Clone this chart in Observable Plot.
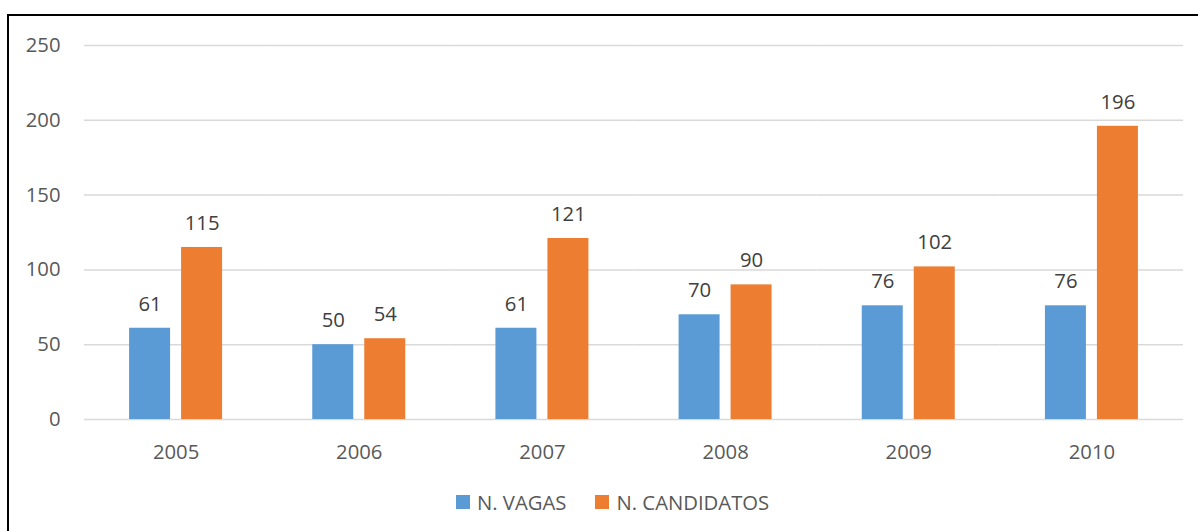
<!DOCTYPE html>
<html>
<head>
<meta charset="utf-8">
<script src="https://cdn.jsdelivr.net/npm/d3@7"></script>
<script src="https://cdn.jsdelivr.net/npm/@observablehq/plot@0.6"></script>
<style>
  html, body { margin: 0; padding: 0; background: #fff; overflow: hidden; }
  #wrap { position: relative; width: 1198px; height: 531px; overflow: hidden; font-family: "Open Sans", sans-serif; }
  #frame { position: absolute; left: 7px; top: 14px; width: 1200px; height: 600px; border: 2px solid #000; box-sizing: border-box; }
  #chart { position: absolute; left: 0; top: 0; }
  #legend { position: absolute; left: 456px; top: 488px; display: flex; align-items: center; font-size: 20.3px; color: #595959; white-space: nowrap; }
  #legend .item { display: flex; align-items: center; }
  #legend .sw { width: 14px; height: 14px; margin-right: 7px; }
</style>
</head>
<body>
<div id="wrap">
  <div id="frame"></div>
  <div id="chart"></div>
  <div id="legend"></div>
</div>
<script>
const years = ["2005", "2006", "2007", "2008", "2009", "2010"];
const seriesNames = ["N. VAGAS", "N. CANDIDATOS"];
const vagas = [61, 50, 61, 70, 76, 76];
const candidatos = [115, 54, 121, 90, 102, 196];
const yTicks = [0, 50, 100, 150, 200, 250];
const colors = ["#5b9bd5", "#ed7d31"];

const data = [];
years.forEach((yr, i) => {
  data.push({year: yr, series: seriesNames[0], value: vagas[i]});
  data.push({year: yr, series: seriesNames[1], value: candidatos[i]});
});

const fs = 20.3;
const chart = Plot.plot({
  width: 1198,
  height: 470,
  marginLeft: 84,
  marginRight: 15,
  marginTop: 45,
  marginBottom: 51,
  style: {fontFamily: "Open Sans", fontSize: fs + "px", background: "transparent", overflow: "visible"},
  fx: {domain: years, padding: 0, label: null, round: false},
  x: {domain: seriesNames, paddingInner: 0.2115, paddingOuter: 0.867, axis: null, round: false},
  y: {domain: [0, 250], label: null},
  color: {domain: seriesNames, range: colors},
  marks: [
    Plot.ruleY(yTicks, {stroke: "#d9d9d9", strokeWidth: 1.5}),
    Plot.axisY({ticks: yTicks, tickSize: 0, tickPadding: 24, fill: "#595959", fontSize: fs, label: null}),
    Plot.axisFx({anchor: "bottom", tickSize: 0, tickPadding: 25, fill: "#595959", fontSize: fs, label: null}),
    Plot.barY(data, {fx: "year", x: "series", y: "value", fill: "series"}),
    Plot.text(data, {fx: "year", x: "series", y: "value", text: d => String(d.value), dy: -24, fill: "#404040", fontSize: fs, lineAnchor: "middle"})
  ]
});
document.getElementById("chart").appendChild(chart);

const legend = document.getElementById("legend");
seriesNames.forEach((name, i) => {
  const item = document.createElement("div");
  item.className = "item";
  if (i > 0) item.style.marginLeft = "29px";
  const sw = document.createElement("div");
  sw.className = "sw";
  sw.style.background = colors[i];
  const label = document.createElement("span");
  label.textContent = name;
  item.appendChild(sw);
  item.appendChild(label);
  legend.appendChild(item);
});
</script>
</body>
</html>
